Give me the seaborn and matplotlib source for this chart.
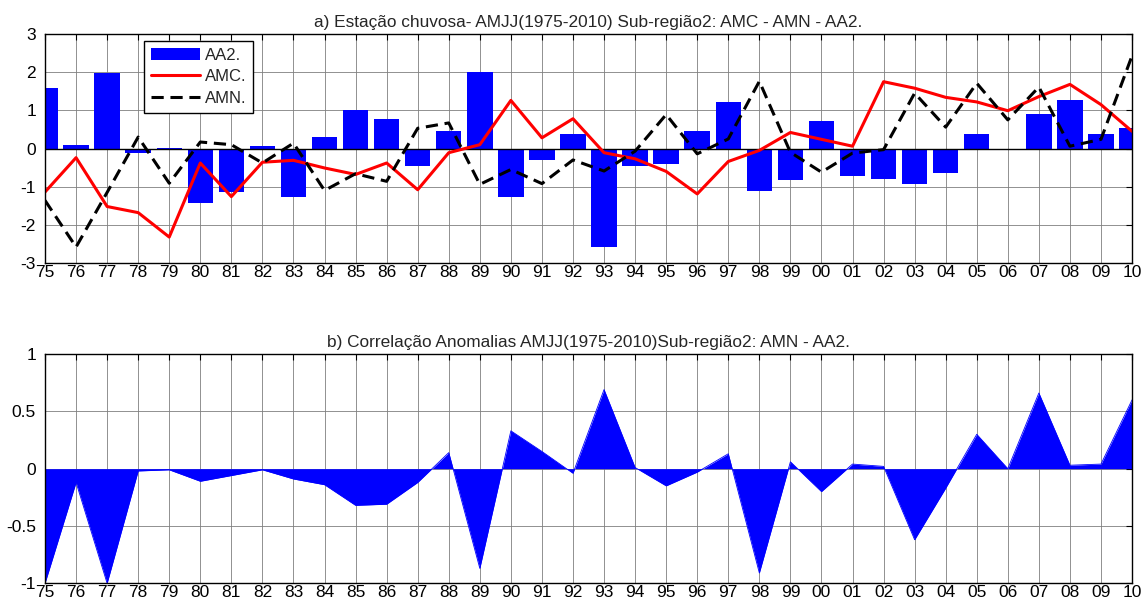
import numpy as np
import pandas as pd
import matplotlib
matplotlib.use("Agg")
import matplotlib.pyplot as plt
import seaborn as sns

# Years of the AMJJ rainy season series
years = list(range(1975, 2011))
year_labels = [f"{y % 100:02d}" for y in years]

# Standardised anomalies, sub-region 2
aa2 = [1.59, 0.09, 1.98, -0.12, 0.01, -1.43, -1.15, 0.06, -1.28, 0.29, 1.00, 0.76,
       -0.45, 0.45, 2.01, -1.26, -0.31, 0.39, -2.57, -0.45, -0.40, 0.45, 1.21, -1.12,
       -0.82, 0.71, -0.72, -0.81, -0.92, -0.65, 0.39, -0.04, 0.90, 1.26, 0.39, 0.53]
amc = [-1.14, -0.24, -1.52, -1.68, -2.32, -0.38, -1.26, -0.36, -0.31, -0.51, -0.68, -0.38,
       -1.08, -0.11, 0.10, 1.26, 0.28, 0.78, -0.11, -0.27, -0.60, -1.19, -0.34, -0.05,
       0.42, 0.24, 0.06, 1.75, 1.58, 1.34, 1.22, 0.99, 1.36, 1.68, 1.15, 0.45]
amn = [-1.36, -2.58, -1.15, 0.30, -0.91, 0.17, 0.10, -0.38, 0.14, -1.10, -0.66, -0.86,
       0.53, 0.67, -0.94, -0.55, -0.92, -0.30, -0.59, -0.07, 0.89, -0.14, 0.25, 1.76,
       -0.10, -0.62, -0.12, -0.03, 1.45, 0.56, 1.71, 0.75, 1.61, 0.06, 0.24, 2.43]

# Correlation of anomalies AMN x AA2
corr = [-1.00, -0.12, -1.00, -0.02, -0.01, -0.11, -0.06, -0.01, -0.09, -0.14, -0.32, -0.31,
        -0.12, 0.14, -0.87, 0.33, 0.15, -0.04, 0.69, 0.01, -0.15, -0.03, 0.13, -0.91,
        0.06, -0.20, 0.04, 0.02, -0.62, -0.17, 0.30, 0.00, 0.66, 0.03, 0.04, 0.60]

df = pd.DataFrame({"ano": years, "AA2": aa2, "AMC": amc, "AMN": amn, "corr": corr})

sns.set_style("white")
plt.rcParams["font.family"] = ["Liberation Sans", "DejaVu Sans"]
plt.rcParams["axes.unicode_minus"] = False

fig = plt.figure(figsize=(11.48, 6.07), dpi=100)
ax1 = fig.add_axes([0.0392, 0.5667, 0.9469, 0.3773])
ax2 = fig.add_axes([0.0392, 0.0390, 0.9469, 0.3778])

blue = "#0000ff"

# Panel a: bars + two anomaly curves
sns.barplot(data=df, x="ano", y="AA2", native_scale=True, width=0.82, color=blue,
            saturation=1, edgecolor="none", ax=ax1, label="AA2.", zorder=2)
ax1.axhline(0, color="black", lw=1.0, zorder=2.5)
sns.lineplot(data=df, x="ano", y="AMC", color="#ff0000", lw=2.2, ax=ax1,
             label="AMC.", zorder=3)
sns.lineplot(data=df, x="ano", y="AMN", color="black", lw=2.2, ax=ax1,
             label="AMN.", zorder=4, dashes=False)
ax1.lines[-1].set_linestyle((0, (4, 2.2)))
ax1.set_ylim(-3, 3)
ax1.set_yticks(range(-3, 4))
ax1.set_title("a) Estação chuvosa- AMJJ(1975-2010) Sub-região2: AMC - AMN - AA2.",
              fontsize=12.4, pad=5)

handles, labels = ax1.get_legend_handles_labels()
order = [labels.index(n) for n in ("AA2.", "AMC.", "AMN.")]
leg = ax1.legend([handles[i] for i in order], [labels[i] for i in order],
                 loc="upper left", bbox_to_anchor=(0.091, 0.97), fontsize=12,
                 frameon=True, fancybox=False, edgecolor="black", framealpha=1,
                 handlelength=2.95, borderpad=0.4, labelspacing=0.4,
                 handletextpad=0.3, borderaxespad=0)
leg.get_frame().set_linewidth(1.0)

# Panel b: filled correlation curve
sns.lineplot(data=df, x="ano", y="corr", color=blue, lw=0.6, ax=ax2, zorder=3)
ax2.fill_between(df["ano"], df["corr"], 0, color=blue, lw=0, zorder=3)
ax2.set_ylim(-1, 1)
ax2.set_yticks([-1, -0.5, 0, 0.5, 1])
ax2.set_yticklabels(["-1", "-0.5", "0", "0.5", "1"])
ax2.set_title("b) Correlação Anomalias AMJJ(1975-2010)Sub-região2: AMN - AA2.",
              fontsize=12.4, pad=5)

for ax in (ax1, ax2):
    ax.set_xlim(1975, 2010)
    ax.set_xticks(years)
    ax.set_xticklabels(year_labels)
    ax.set_xlabel("")
    ax.set_ylabel("")
    ax.grid(True, color="#7f7f7f", lw=0.6, ls="-", zorder=0)
    ax.set_axisbelow(True)
    ax.tick_params(direction="in", top=True, right=True, length=4, width=0.8,
                   labelsize=12.5, colors="black")
    ax.tick_params(axis="x", pad=1.5)
    ax.tick_params(axis="y", pad=6.5)
    for s in ax.spines.values():
        s.set_visible(True)
        s.set_color("black")
        s.set_linewidth(1.0)
        s.set_zorder(5)

fig.savefig("out.png", dpi=100)
